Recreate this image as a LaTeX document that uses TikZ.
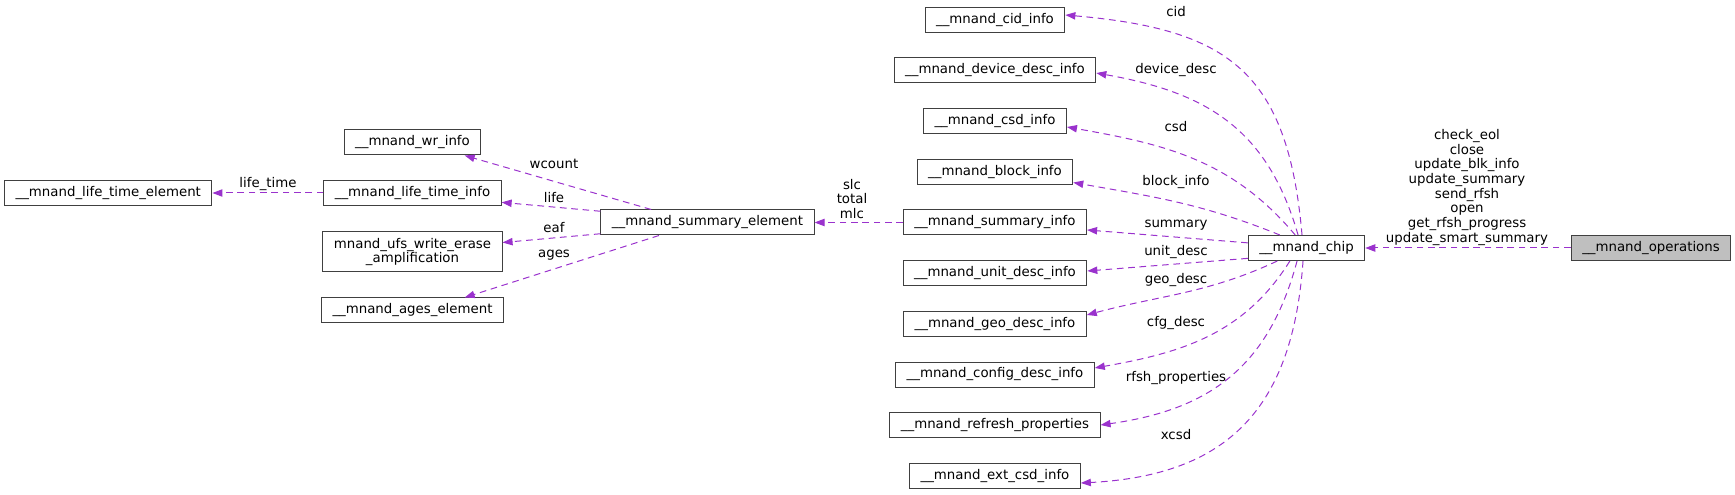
\documentclass[tikz,border=0pt]{standalone}
\usepackage{fontspec}
\setmainfont{DejaVu Sans}
\usepackage{tikz}
\usetikzlibrary{arrows.meta}
\definecolor{edgecolor}{HTML}{9A32CD}
\definecolor{boxline}{HTML}{404040}
\definecolor{opsfill}{HTML}{BFBFBF}
\tikzstyle{classbox} =[
    draw=boxline,
    line width=0.75pt,
    rectangle,
    minimum height=18.75pt,
    inner xsep=8.25pt,
    inner ysep=2pt,
    align=center,
    font=\fontsize{10}{11}\selectfont
    ]
\tikzstyle{member} = [
    edgecolor,
    line width=0.75pt,
    dash pattern=on 5pt off 3.5pt,
    -{Triangle[length=7.5pt,width=5.5pt]}
    ]
\tikzstyle{memberlabel} = [
    inner sep=0pt,
    align=center,
    font=\fontsize{10}{11}\selectfont
    ]

\begin{document}
\begin{tikzpicture}[x=0.75pt,y=-0.75pt]
\useasboundingbox (0,0) rectangle (1735,495);

% classes
\node[classbox, fill=opsfill] (ops) at (1651,248) {\_\_mnand\_operations};
\node[classbox] (chip) at (1306.5,248) {\_\_mnand\_chip};
\node[classbox] (cid) at (995,20) {\_\_mnand\_cid\_info};
\node[classbox] (dev) at (995,70.5) {\_\_mnand\_device\_desc\_info};
\node[classbox] (csd) at (995,121) {\_\_mnand\_csd\_info};
\node[classbox] (block) at (995,172) {\_\_mnand\_block\_info};
\node[classbox] (suminfo) at (995,222.5) {\_\_mnand\_summary\_info};
\node[classbox] (unit) at (995,273) {\_\_mnand\_unit\_desc\_info};
\node[classbox] (geo) at (995,324) {\_\_mnand\_geo\_desc\_info};
\node[classbox] (config) at (995,374.5) {\_\_mnand\_config\_desc\_info};
\node[classbox] (refresh) at (995,425) {\_\_mnand\_refresh\_properties};
\node[classbox] (ext) at (995,476) {\_\_mnand\_ext\_csd\_info};
\node[classbox] (sume) at (707.5,222.5) {\_\_mnand\_summary\_element};
\node[classbox] (wr) at (412.5,142.5) {\_\_mnand\_wr\_info};
\node[classbox] (lti) at (412.5,193) {\_\_mnand\_life\_time\_info};
\node[classbox, minimum height=30pt] (ufs) at (412.5,252) {mnand\_ufs\_write\_erase\\\_amplification};
\node[classbox] (ages) at (412.5,310.5) {\_\_mnand\_ages\_element};
\node[classbox] (lte) at (108.3,193) {\_\_mnand\_life\_time\_element};

% chip members
\draw[member] (ops.west) -- (chip.east);
\draw[member] (chip.109) to[out=95, in=-5, looseness=1.3] ([yshift=3.75pt]cid.east);
\draw[member] (chip.123) to[out=106, in=-10, looseness=1.1] ([yshift=-1.9pt]dev.east);
\draw[member] (chip.131.5) to[out=130, in=-10] ([yshift=-4.5pt]csd.east);
\draw[member] (chip.154) to[out=158, in=-10] ([yshift=-7.9pt]block.east);
\draw[member] (chip.175) -- ([yshift=-5.6pt]suminfo.east);
\draw[member] (chip.190) -- ([yshift=1.5pt]unit.east);
\draw[member] (chip.204) to[out=205, in=15] ([yshift=6.75pt]geo.east);
\draw[member] (chip.218) to[out=238, in=10] ([yshift=4.9pt]config.east);
\draw[member] (chip.234) to[out=255, in=8, looseness=1.1] (refresh.east);
\draw[member] (chip.255) to[out=266, in=3, looseness=1.2] ([yshift=-5.25pt]ext.east);

% summary members
\draw[member] (suminfo.west) -- (sume.east);
\draw[member] (sume.167) -- (wr.-14);
\draw[member] (sume.174) -- (lti.-6);
\draw[member] (sume.186) -- (ufs.6);
\draw[member] (sume.195) -- (ages.14);
\draw[member] (lti.west) -- (lte.east);

% labels
\node[memberlabel] (opslabel) at (1467,187.5) {check\_eol\\close\\update\_blk\_info\\update\_summary\\send\_rfsh\\open\\get\_rfsh\_progress\\update\_smart\_summary};
\node[memberlabel] (cidlabel) at (1176,12) {cid};
\node[memberlabel] (devlabel) at (1176,70) {device\_desc};
\node[memberlabel] (csdlabel) at (1176,127) {csd};
\node[memberlabel] (blocklabel) at (1176,182) {block\_info};
\node[memberlabel] (sumlabel) at (1176,225) {summary};
\node[memberlabel] (unitlabel) at (1176,252) {unit\_desc};
\node[memberlabel] (geolabel) at (1176,280) {geo\_desc};
\node[memberlabel] (cfglabel) at (1176,323) {cfg\_desc};
\node[memberlabel] (rfshlabel) at (1176,378) {rfsh\_properties};
\node[memberlabel] (xcsdlabel) at (1176,435) {xcsd};
\node[memberlabel] (slclabel) at (852,199) {slc\\total\\mlc};
\node[memberlabel] (wrlabel) at (554,164) {wcount};
\node[memberlabel] (lifelabel) at (554,198) {life};
\node[memberlabel] (eaflabel) at (554,228) {eaf};
\node[memberlabel] (ageslabel) at (554,255) {ages};
\node[memberlabel] (ltlabel) at (268,184) {life\_time};
\end{tikzpicture}
\end{document}
